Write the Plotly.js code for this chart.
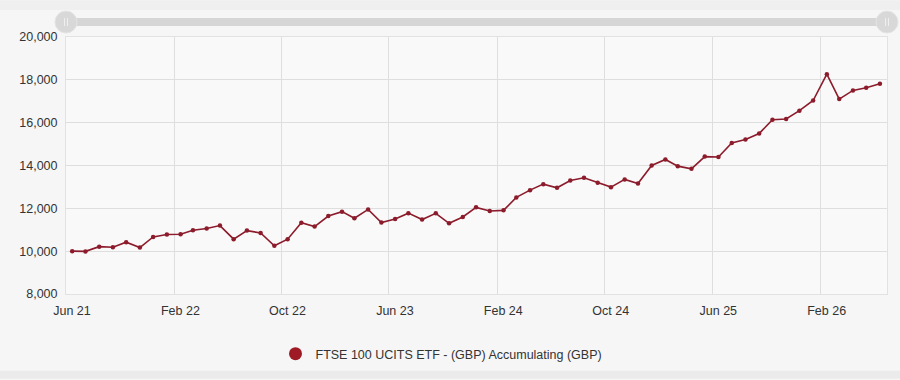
<!DOCTYPE html>
<html>
<head>
<meta charset="utf-8">
<script src="https://cdn.plot.ly/plotly-3.0.1.min.js"></script>
<style>
html,body{margin:0;padding:0;background:#f6f6f6;}
#chart{width:900px;height:380px;}
</style>
</head>
<body>
<div id="chart"></div>
<script>
var seriesName = "FTSE 100 UCITS ETF - (GBP) Accumulating (GBP)";
var dates = [
"2021-06-15","2021-07-15","2021-08-15","2021-09-15","2021-10-15","2021-11-15","2021-12-15",
"2022-01-15","2022-02-15","2022-03-15","2022-04-15","2022-05-15","2022-06-15","2022-07-15",
"2022-08-15","2022-09-15","2022-10-15","2022-11-15","2022-12-15","2023-01-15","2023-02-15",
"2023-03-15","2023-04-15","2023-05-15","2023-06-15","2023-07-15","2023-08-15","2023-09-15",
"2023-10-15","2023-11-15","2023-12-15","2024-01-15","2024-02-15","2024-03-15","2024-04-15",
"2024-05-15","2024-06-15","2024-07-15","2024-08-15","2024-09-15","2024-10-15","2024-11-15",
"2024-12-15","2025-01-15","2025-02-15","2025-03-15","2025-04-15","2025-05-15","2025-06-15",
"2025-07-15","2025-08-15","2025-09-15","2025-10-15","2025-11-15","2025-12-15","2026-01-15",
"2026-02-15","2026-03-15","2026-04-15","2026-05-15","2026-06-15"
];
var values = [
10000, 9990, 10210, 10185, 10420, 10170, 10665,
10780, 10790, 10975, 11055, 11195, 10560, 10960,
10850, 10250, 10560, 11330, 11150, 11640, 11845,
11535, 11950, 11335, 11500, 11775, 11475, 11765,
11300, 11595, 12045, 11875, 11905, 12510, 12850,
13130, 12960, 13300, 13425, 13190, 12990, 13350,
13160, 14000, 14280, 13970, 13845, 14415, 14400,
15055, 15210, 15490, 16140, 16170, 16560, 17035,
18265, 17100, 17505, 17630, 17815
];
var yTicks = [8000, 10000, 12000, 14000, 16000, 18000, 20000];

var lineColor = "#8c1b2b";
var W = 821, H = 258; // plot area px

var traces = [
  {
    x: dates, y: values, type: "scatter", mode: "lines+markers",
    line: {color: lineColor, width: 1.6},
    marker: {color: lineColor, size: 4.5},
    showlegend: false, hoverinfo: "x+y"
  },
  {
    x: [null], y: [null], type: "scatter", mode: "markers",
    name: seriesName,
    marker: {color: "#9e1b25", size: 13, symbol: "circle"},
    showlegend: true
  }
];

function px(dx){ return dx / W; }
function py(dy){ return dy / H; }

var shapes = [
  // bottom band
  {type:"rect", xref:"paper", yref:"paper", x0:-66/W, x1:1+13/W, y0:-85/H, y1:-77/H,
   fillcolor:"#ebebeb", line:{width:0}, layer:"below"},
  // top band
  {type:"rect", xref:"paper", yref:"paper", x0:-66/W, x1:1+13/W, y0:1+27/H, y1:1+37/H,
   fillcolor:"#efefef", line:{width:0}, layer:"below"},
  // slider bar
  {type:"rect", xref:"paper", yref:"paper", x0:0, x1:1, y0:1+py(11), y1:1+py(19),
   fillcolor:"#d6d6d6", line:{width:0}},
  // left handle
  {type:"circle", xref:"paper", yref:"paper", x0:-px(11), x1:px(11), y0:1+py(4), y1:1+py(26),
   fillcolor:"#d8d8d8", line:{color:"#e4e4e4", width:1}},
  {type:"line", xref:"paper", yref:"paper", x0:-px(1.5), x1:-px(1.5), y0:1+py(11), y1:1+py(19),
   line:{color:"#efefef", width:1}},
  {type:"line", xref:"paper", yref:"paper", x0:px(1.5), x1:px(1.5), y0:1+py(11), y1:1+py(19),
   line:{color:"#efefef", width:1}},
  // right handle
  {type:"circle", xref:"paper", yref:"paper", x0:1-px(11), x1:1+px(11), y0:1+py(4), y1:1+py(26),
   fillcolor:"#d8d8d8", line:{color:"#e4e4e4", width:1}},
  {type:"line", xref:"paper", yref:"paper", x0:1-px(1.5), x1:1-px(1.5), y0:1+py(11), y1:1+py(19),
   line:{color:"#efefef", width:1}},
  {type:"line", xref:"paper", yref:"paper", x0:1+px(1.5), x1:1+px(1.5), y0:1+py(11), y1:1+py(19),
   line:{color:"#efefef", width:1}}
];

var layout = {
  width: 900, height: 380,
  margin: {l: 66, r: 13, t: 37, b: 85},
  paper_bgcolor: "#f6f6f6",
  plot_bgcolor: "#f9f9f9",
  font: {family: "'Liberation Sans', Arial, sans-serif", size: 12, color: "#333333"},
  xaxis: {
    type: "date",
    range: ["2021-06-01", "2026-07-01"],
    tick0: "2021-06-01", dtick: "M8",
    tickformat: "%b %y",
    showgrid: true, gridcolor: "#dedede", gridwidth: 1,
    zeroline: false, showline: true, linecolor: "#e2e2e2", mirror: true,
    ticks: "", ticklabelshift: 6, ticklabelstandoff: 5,
    tickfont: {size: 12.5, color: "#333333"},
    fixedrange: true
  },
  yaxis: {
    range: [8000, 20000],
    tickvals: yTicks,
    tickformat: ",d",
    showgrid: true, gridcolor: "#dedede", gridwidth: 1,
    zeroline: false, showline: true, linecolor: "#e2e2e2", mirror: true,
    ticks: "", ticklabelstandoff: 5,
    tickfont: {size: 12.5, color: "#333333"},
    fixedrange: true
  },
  legend: {
    orientation: "h", x: 0.5 - 35/W, xanchor: "center", y: -59/H, yanchor: "middle",
    font: {size: 12.5, color: "#333333"}, bgcolor: "rgba(0,0,0,0)"
  },
  shapes: shapes,
  showlegend: true
};

Plotly.newPlot("chart", traces, layout, {displayModeBar: false, staticPlot: true});
</script>
</body>
</html>
